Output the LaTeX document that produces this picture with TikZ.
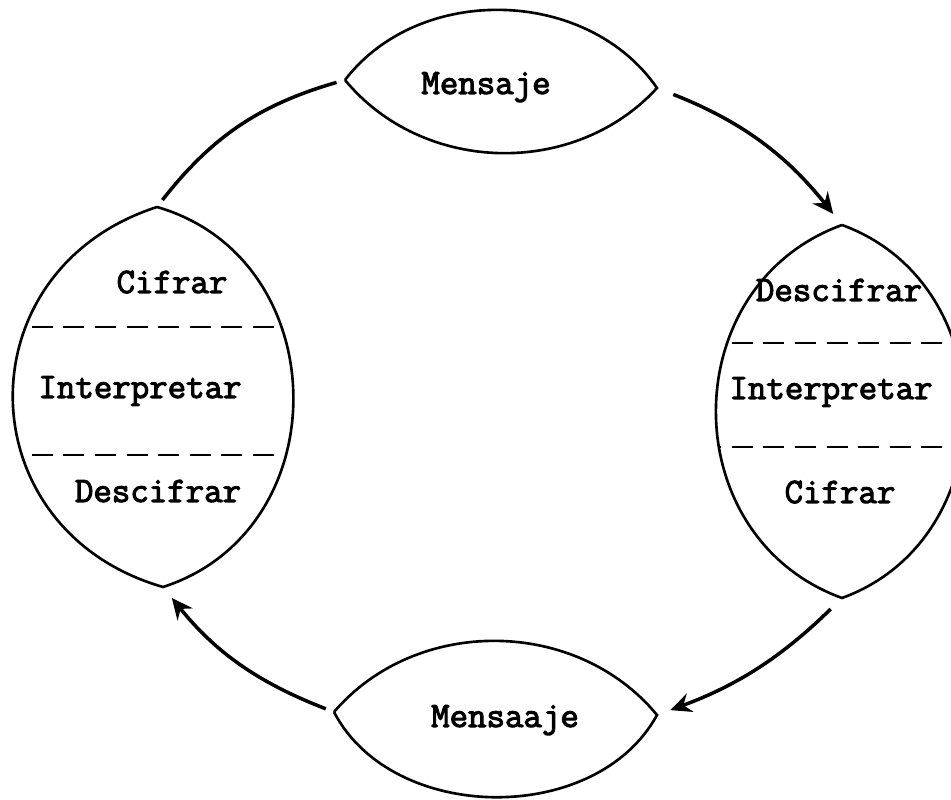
\documentclass[tikz,border=0pt]{standalone}
\usepackage{fontspec}
\newfontfamily\typew[FakeBold=3]{Latin Modern Mono}
\usetikzlibrary{arrows.meta}

\tikzset{
  lens/.style={line width=1.5pt, black},
  sep/.style={line width=1.3pt, dash pattern=on 12pt off 6pt},
  flow/.style={line width=2pt, -{Stealth[length=12pt, width=11pt, inset=4pt]},
    shorten >=8pt, shorten <=8pt},
  word/.style={anchor=base, font=\typew\fontsize{20.4}{22}\selectfont}
}

\begin{document}
\begin{tikzpicture}[x=0.02cm, y=-0.02cm]
    \useasboundingbox (0,0) rectangle (951,800);

    % Puntas de las lentes
    \coordinate (mt-w) at (345,80);
    \coordinate (mt-e) at (657,88);
    \coordinate (mb-w) at (334,712);
    \coordinate (mb-e) at (657,715);
    \coordinate (lt-n) at (157,207);
    \coordinate (lt-s) at (163,587);
    \coordinate (rt-n) at (842,225);
    \coordinate (rt-s) at (842,598);

    % Mensaje (arriba)
    \draw[lens] (mt-w) to[bend left=54] (mt-e) to[bend left=49] (mt-w);
    \node[word] (msg-top) at (486,94) {Mensaje};

    % Mensaje (abajo)
    \draw[lens] (mb-w) to[bend left=50] (mb-e) to[bend left=62] (mb-w);
    \node[word] (msg-bot) at (505,727) {Mensaaje};

    % Lente izquierda
    \begin{scope}
      \clip (lt-n) to[bend left=73, looseness=1.25] (lt-s)
                   to[bend left=73, looseness=1.38] (lt-n);
      \draw[sep] (0,327) -- (300,327);
      \draw[sep] (0,455) -- (300,455);
    \end{scope}
    \draw[lens] (lt-n) to[bend left=73, looseness=1.25] (lt-s)
                to[bend left=73, looseness=1.38] (lt-n);
    \node[word] (lt-a) at (172,293) {Cifrar};
    \node[word] (lt-b) at (140,398) {Interpretar};
    \node[word] (lt-c) at (158,502) {Descifrar};

    % Lente derecha
    \begin{scope}
      \clip (rt-n) to[bend left=70, looseness=1.2] (rt-s)
                   to[bend left=70, looseness=1.23] (rt-n);
      \draw[sep] (700,343) -- (960,343);
      \draw[sep] (700,447) -- (960,447);
    \end{scope}
    \draw[lens] (rt-n) to[bend left=70, looseness=1.2] (rt-s)
                to[bend left=70, looseness=1.23] (rt-n);
    \node[word] (rt-a) at (839,301) {Descifrar};
    \node[word] (rt-b) at (831,399) {Interpretar};
    \node[word] (rt-c) at (840,503) {Cifrar};

    % Ciclo
    \draw[flow, shorten <=10pt] (mt-e) to[bend left=15] (rt-n);
    \draw[flow, shorten <=9pt] (rt-s) to[bend left=12] (mb-e);
    \draw[flow, shorten <=5pt] (mb-w) to[bend left=15] (lt-s);
    \draw[flow, -, shorten <=5pt, shorten >=5pt] (lt-n) to[bend left=18] (mt-w);
\end{tikzpicture}
\end{document}
